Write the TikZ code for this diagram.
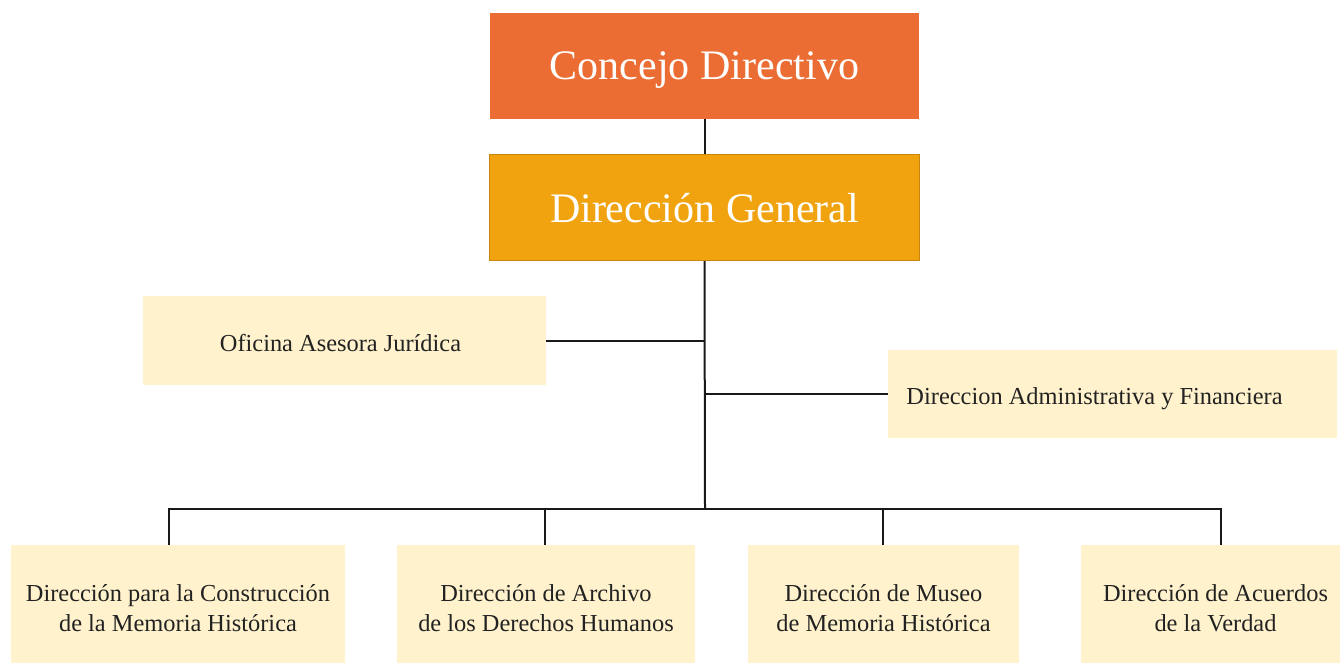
\documentclass[tikz,border=0pt]{standalone}
\usepackage{fontspec}
\setmainfont{Liberation Serif}
\definecolor{cdorange}{HTML}{EB6D33}
\definecolor{dggold}{HTML}{F0A30E}
\definecolor{dgborder}{HTML}{C8860C}
\definecolor{cream}{HTML}{FFF2CC}
\definecolor{txt}{HTML}{222222}
\newcommand{\lowerby}[2]{\raisebox{-#1}[\height][\depth]{#2}}
\begin{document}
\begin{tikzpicture}[x=1pt,y=-1pt,
  topbox/.style={rectangle, inner sep=0pt, text=white, font=\fontsize{42}{48}\selectfont, align=center},
  unit/.style={rectangle, fill=cream, inner sep=0pt, text=txt, font=\fontsize{24.4}{30}\selectfont, align=center},
  link/.style={draw=black!90, line width=2pt}]
\useasboundingbox (0,0) rectangle (1340,662);
\node[topbox, fill=cdorange, minimum width=429pt, minimum height=106pt] (cd) at (704.5,66) {\lowerby{4pt}{Concejo Directivo}};
\node[topbox, fill=dggold, draw=dgborder, line width=1.3pt, minimum width=430pt, minimum height=106pt] (dg) at (704.5,207.5) {\lowerby{1pt}{Dirección General}};
\node[unit, minimum width=403pt, minimum height=89pt] (oaj) at (344.5,340.5) {\lowerby{3pt}{Oficina Asesora Jurídica}\hspace*{8pt}};
\node[unit, minimum width=449pt, minimum height=88pt] (daf) at (1112.5,394) {\lowerby{5pt}{Direccion Administrativa y Financiera}\hspace*{36pt}};
\node[unit, minimum width=334pt, minimum height=127pt] (b1) at (178,608.5) {Dirección para la Construcción\\de la Memoria Histórica};
\node[unit, minimum width=298pt, minimum height=127pt] (b2) at (546,608.5) {Dirección de Archivo\\de los Derechos Humanos};
\node[unit, minimum width=271pt, minimum height=127pt] (b3) at (883.5,608.5) {Dirección de Museo\\de Memoria Histórica};
\node[unit, minimum width=269pt, minimum height=127pt] (b4) at (1215.5,608.5) {Dirección de Acuerdos\\de la Verdad};
\coordinate (bus) at (705,509);
\coordinate (d1) at (169,545);
\coordinate (d2) at (545,545);
\coordinate (d3) at (883,545);
\coordinate (d4) at (1221,545);
\draw[link] (cd.south) -- (dg.north);
\draw[link] (dg.south) -- (bus);
\draw[link] (oaj.east) -- (oaj.east -| dg.south);
\draw[link] (daf.west) -- (daf.west -| dg.south);
\draw[link] (d1) |- (bus) -| (d4);
\draw[link] (d2) -- (d2 |- bus);
\draw[link] (d3) -- (d3 |- bus);
\end{tikzpicture}
\end{document}
